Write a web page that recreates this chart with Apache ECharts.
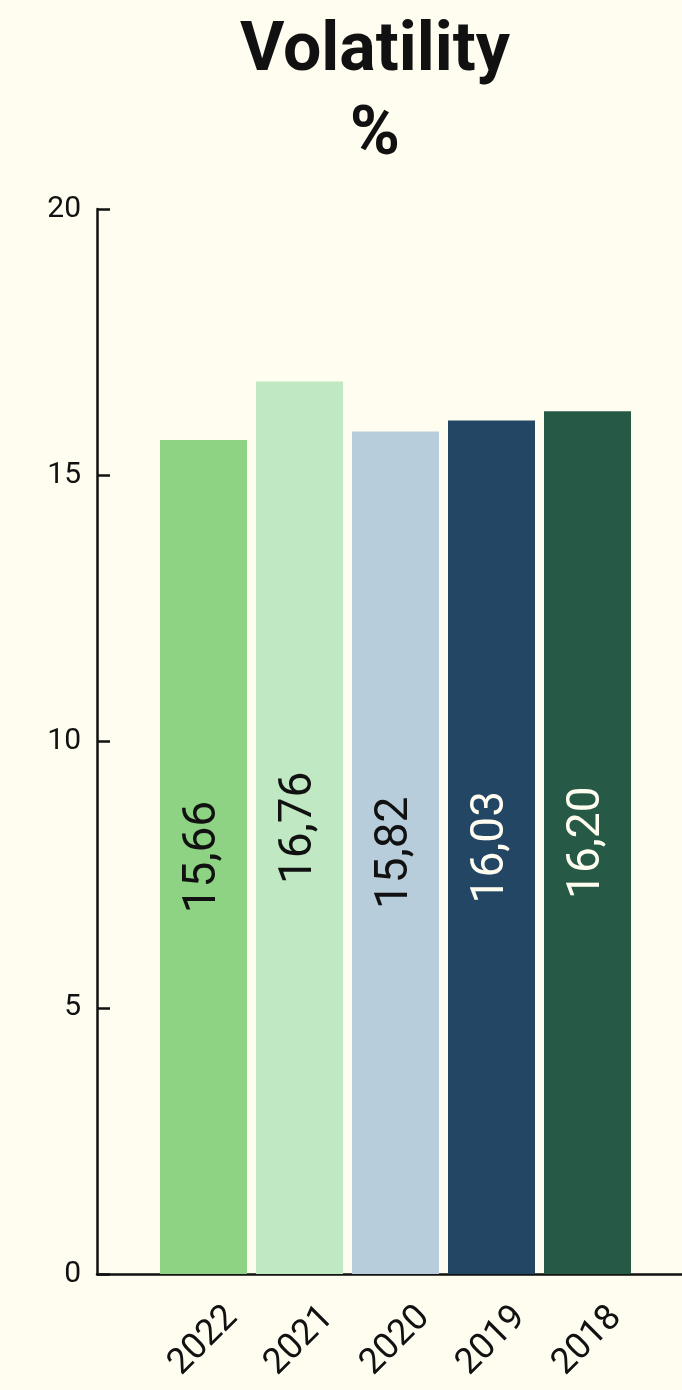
<!DOCTYPE html>
<html>
<head>
<meta charset="utf-8">
<script src="https://cdn.jsdelivr.net/npm/echarts@6/dist/echarts.min.js"></script>
<style>
  html, body { margin: 0; padding: 0; background: #fffcf0; }
  #chart { width: 682px; height: 1390px; }
</style>
</head>
<body>
<div id="chart"></div>
<script>
// Annual volatility, in percent
const years = ['2022', '2021', '2020', '2019', '2018'];
const volatility = [15.66, 16.76, 15.82, 16.03, 16.20];
const barColors = ['#8ed283', '#bfe8c3', '#b8cddb', '#244665', '#265a47'];
const labelColors = ['#111111', '#111111', '#111111', '#fffcf0', '#fffcf0'];
const yTicks = [0, 5, 10, 15, 20];

const FONT = 'Roboto, "Noto Sans", sans-serif';
const INK = '#111111';

const chart = echarts.init(document.getElementById('chart'), null, { renderer: 'canvas' });

chart.setOption({
  backgroundColor: '#fffcf0',
  animation: false,
  title: {
    text: 'Volatility\n%',
    left: 370,
    textAlign: 'center',
    top: 6,
    textStyle: {
      fontFamily: FONT,
      fontWeight: 'bold',
      fontSize: 68,
      lineHeight: 84,
      color: INK
    }
  },
  grid: [
    // frame: value axis and baseline
    { left: 97, right: 0, top: 209, bottom: 116 },
    // bars
    { left: 155.5, right: 46.5, top: 209, bottom: 116 }
  ],
  xAxis: [
    {
      gridIndex: 0, type: 'value', min: 0, max: 1,
      axisLine: { show: true, lineStyle: { color: INK, width: 2.5 } },
      axisTick: { show: false }, axisLabel: { show: false }, splitLine: { show: false }
    },
    {
      gridIndex: 1, type: 'category', data: years,
      axisLine: { show: false }, axisTick: { show: false },
      axisLabel: {
        rotate: 45,
        align: 'center',
        verticalAlign: 'middle',
        margin: 67,
        fontFamily: FONT,
        fontSize: 36,
        color: INK
      }
    }
  ],
  yAxis: [
    {
      gridIndex: 0, type: 'value', min: yTicks[0], max: yTicks[yTicks.length - 1], interval: 5,
      axisLine: { show: true, lineStyle: { color: INK, width: 2.5 } },
      axisTick: { show: true, inside: true, length: 13, lineStyle: { color: INK, width: 2.5 } },
      axisLabel: { fontFamily: FONT, fontSize: 30, color: INK, margin: 16 },
      splitLine: { show: false }
    },
    {
      gridIndex: 1, type: 'value', min: yTicks[0], max: yTicks[yTicks.length - 1],
      show: false, splitLine: { show: false }
    }
  ],
  series: [{
    type: 'bar',
    xAxisIndex: 1,
    yAxisIndex: 1,
    barWidth: 87,
    data: volatility.map((v, i) => ({
      value: v,
      itemStyle: { color: barColors[i] },
      label: { color: labelColors[i] }
    })),
    label: {
      show: true,
      position: 'inside',
      rotate: 90,
      fontFamily: FONT,
      fontSize: 46,
      formatter: p => p.value.toFixed(2).replace('.', ',')
    }
  }]
});
</script>
</body>
</html>
